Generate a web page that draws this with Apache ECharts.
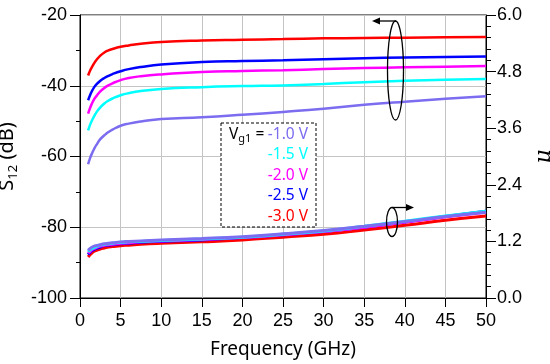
<!DOCTYPE html>
<html><head><meta charset="utf-8">
<script src="https://cdn.jsdelivr.net/npm/echarts@6/dist/echarts.min.js"></script>
<style>html,body{margin:0;padding:0;background:#fff}#c{width:550px;height:364px}</style>
</head><body><div id="c"></div>
<script>
const freq = [1, 1.25, 1.5, 1.75, 2, 2.5, 3, 3.5, 4, 5, 6, 7.5, 10, 15, 20, 25, 30, 35, 40, 45, 50];
const voltages = ['-1.0 V', '-1.5 V', '-2.0 V', '-2.5 V', '-3.0 V'];
const colors = ['#7b6cf0', '#00ffff', '#ff00ff', '#0000ff', '#ff0000'];
// S12 (dB)
const s12_m10 = [-62.2, -60.4, -59.0, -57.8, -56.8, -55.1, -54.0, -53.1, -52.4, -51.3, -50.7, -50.1, -49.4, -48.9, -48.2, -47.4, -46.5, -45.4, -44.5, -43.7, -43.0];
const s12_m15 = [-52.6, -51.0, -49.7, -48.6, -47.6, -46.1, -45.0, -44.2, -43.6, -42.7, -42.1, -41.5, -40.9, -40.4, -40.1, -39.9, -39.5, -39.0, -38.6, -38.3, -38.1];
const s12_m20 = [-47.9, -46.2, -44.9, -43.8, -43.0, -41.6, -40.6, -39.9, -39.3, -38.4, -37.8, -37.3, -36.8, -36.1, -35.8, -35.6, -35.3, -35.0, -34.8, -34.6, -34.4];
const s12_m25 = [-44.1, -42.6, -41.4, -40.4, -39.7, -38.6, -37.8, -37.2, -36.7, -35.9, -35.3, -34.7, -34.0, -33.3, -33.0, -32.8, -32.5, -32.2, -32.0, -31.9, -31.7];
const s12_m30 = [-37.1, -35.7, -34.6, -33.6, -32.8, -31.5, -30.6, -30.0, -29.6, -29.0, -28.6, -28.1, -27.6, -27.2, -27.0, -26.8, -26.6, -26.5, -26.4, -26.3, -26.2];
// mu
const mu_m10 = [1.01, 1.05, 1.08, 1.10, 1.11, 1.13, 1.15, 1.16, 1.17, 1.19, 1.20, 1.21, 1.23, 1.26, 1.30, 1.36, 1.43, 1.52, 1.62, 1.73, 1.82];
const mu_m15 = [0.98, 1.02, 1.05, 1.07, 1.09, 1.12, 1.14, 1.15, 1.16, 1.18, 1.19, 1.20, 1.22, 1.25, 1.29, 1.35, 1.42, 1.52, 1.63, 1.74, 1.84];
const mu_m20 = [0.95, 0.99, 1.03, 1.05, 1.07, 1.10, 1.12, 1.13, 1.14, 1.16, 1.17, 1.19, 1.21, 1.24, 1.28, 1.34, 1.41, 1.50, 1.61, 1.72, 1.82];
const mu_m25 = [0.92, 0.97, 1.01, 1.03, 1.05, 1.08, 1.11, 1.12, 1.13, 1.15, 1.16, 1.18, 1.20, 1.23, 1.28, 1.34, 1.41, 1.50, 1.61, 1.73, 1.84];
const mu_m30 = [0.87, 0.92, 0.96, 0.99, 1.01, 1.04, 1.06, 1.08, 1.09, 1.11, 1.12, 1.14, 1.16, 1.19, 1.23, 1.29, 1.35, 1.44, 1.54, 1.65, 1.74];
const xTicks = [0, 5, 10, 15, 20, 25, 30, 35, 40, 45, 50];

const s12Sets = [s12_m10, s12_m15, s12_m20, s12_m25, s12_m30];
const muSets = [mu_m10, mu_m15, mu_m20, mu_m25, mu_m30];
const pair = arr => freq.map((f, i) => [f, arr[i]]);

const series = [];
s12Sets.forEach((arr, i) => series.push({
  type: 'line', name: 'S12 ' + voltages[i], yAxisIndex: 0, data: pair(arr),
  smooth: 0.5, showSymbol: false, lineStyle: {color: colors[i], width: 2.5}, z: 3
}));
[4, 3, 2, 1, 0].forEach(i => series.push({
  type: 'line', name: 'mu ' + voltages[i], yAxisIndex: 1, data: pair(muSets[i]),
  smooth: 0.5, showSymbol: false, lineStyle: {color: colors[i], width: 3}, z: 3
}));

const tickFont = {fontFamily: 'Liberation Sans, Arial, sans-serif', fontSize: 18, color: '#000'};
const nameFont = 'Noto Sans, sans-serif';

const chart = echarts.init(document.getElementById('c'), null, {renderer: 'canvas'});
chart.setOption({
  animation: false,
  backgroundColor: '#fff',
  grid: {left: 80, right: 64, top: 15, bottom: 66, containLabel: false, outerBoundsMode: 'none',
         show: true, borderColor: '#000', borderWidth: 1, backgroundColor: 'transparent'},
  xAxis: {
    type: 'value', min: 0, max: 50, interval: 5,
    name: 'Frequency (GHz)', nameLocation: 'middle', nameGap: 42,
    nameTextStyle: {fontFamily: nameFont, fontSize: 19, color: '#000'},
    axisLine: {lineStyle: {color: '#000', width: 1}},
    axisTick: {show: true, inside: false, length: 9, lineStyle: {color: '#000'}},
    axisLabel: Object.assign({margin: 14, formatter: v => xTicks.includes(v) ? String(v) : ''}, tickFont),
    splitLine: {show: true, lineStyle: {color: '#c4c4c4', width: 1}}
  },
  yAxis: [{
    type: 'value', min: -100, max: -20, interval: 20, position: 'left',
    name: '{a|S}{b|12}{a| (dB)}', nameLocation: 'middle', nameGap: 53, nameRotate: 90,
    nameTextStyle: {rich: {a: {fontFamily: nameFont, fontSize: 20, color: '#000'}, b: {fontFamily: nameFont, fontSize: 13, color: '#000', padding: [12, 0, 0, 0]}}},
    axisLine: {show: true, lineStyle: {color: '#000', width: 1}},
    axisTick: {show: true, inside: false, length: 10, lineStyle: {color: '#000'}},
    minorTick: {show: true, splitNumber: 2, length: 4, lineStyle: {color: '#000'}},
    axisLabel: Object.assign({margin: 13}, tickFont),
    splitLine: {show: true, lineStyle: {color: '#c4c4c4', width: 1}}
  }, {
    type: 'value', min: 0, max: 6, interval: 1.2, position: 'right',
    name: 'μ', nameLocation: 'middle', nameGap: 43, nameRotate: 90,
    nameTextStyle: {fontFamily: 'DejaVu Serif, serif', fontStyle: 'italic', fontSize: 22, color: '#000'},
    axisLine: {show: true, lineStyle: {color: '#000', width: 1}},
    axisTick: {show: true, inside: false, length: 10, lineStyle: {color: '#000'}},
    minorTick: {show: true, splitNumber: 5, length: 5, lineStyle: {color: '#000'}},
    axisLabel: Object.assign({margin: 11, formatter: v => v.toFixed(1)}, tickFont),
    splitLine: {show: false}
  }],
  series: series,
  graphic: [
    {type: 'rect', x: 221, y: 123, shape: {width: 95, height: 104},
     style: {fill: '#fff', stroke: '#000', lineWidth: 1, lineDash: [3, 2]}, z: 10},
    {type: 'text', x: 229, y: 134.5,
     style: {text: '{a|V}{b|g1}{a| =}', verticalAlign: 'middle', rich: {a: {fontFamily: nameFont, fontSize: 15.5, fill: '#000'}, b: {fontFamily: nameFont, fontSize: 11, fill: '#000', padding: [9, 0, 0, 0]}}}, z: 11},
    ...voltages.map((v, i) => ({type: 'text', x: 308, y: 134.5 + i * 20.4,
      style: {text: v, align: 'right', verticalAlign: 'middle', fontFamily: nameFont, fontSize: 15.5, fill: colors[i]}, z: 11})),
    {type: 'ellipse', shape: {cx: 395.5, cy: 70.5, rx: 8, ry: 49.5}, style: {fill: 'none', stroke: '#000', lineWidth: 1.3}, z: 10},
    {type: 'polyline', shape: {points: [[396, 21], [378, 21]]}, style: {stroke: '#000', lineWidth: 1.3}, z: 10},
    {type: 'polygon', shape: {points: [[372, 21], [380, 17.5], [380, 24.5]]}, style: {fill: '#000'}, z: 10},
    {type: 'ellipse', shape: {cx: 392, cy: 222, rx: 5.5, ry: 14.5}, style: {fill: 'none', stroke: '#000', lineWidth: 1.3}, z: 10},
    {type: 'polyline', shape: {points: [[392, 207.5], [407, 207.5]]}, style: {stroke: '#000', lineWidth: 1.3}, z: 10},
    {type: 'polygon', shape: {points: [[414, 207.5], [406, 204], [406, 211]]}, style: {fill: '#000'}, z: 10}
  ]
});
</script></body></html>
